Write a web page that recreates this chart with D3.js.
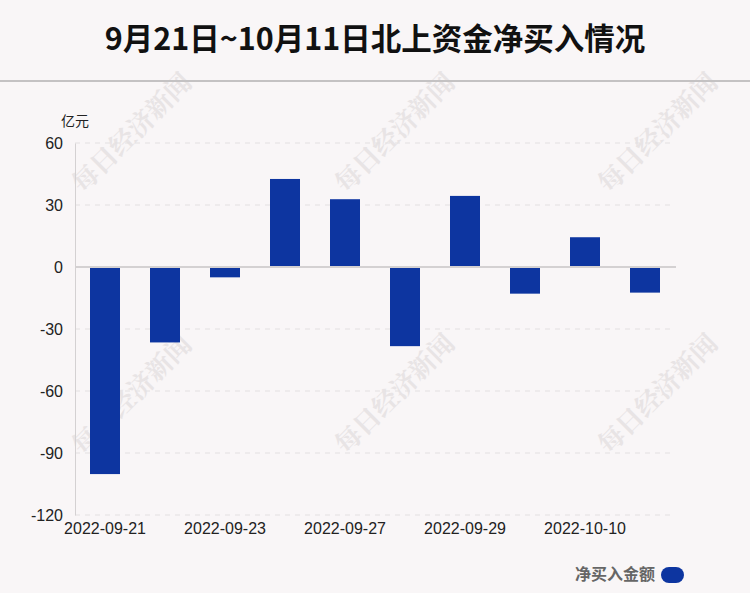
<!DOCTYPE html>
<html><head><meta charset="utf-8">
<script src="https://cdn.jsdelivr.net/npm/d3@7/dist/d3.min.js"></script>
<style>
html,body{margin:0;padding:0;background:#f9f6f7;}
svg{display:block;font-family:"Liberation Sans",Arial,"Noto Sans CJK SC",sans-serif;}
</style></head>
<body>
<script>
const categories = ["2022-09-21","2022-09-22","2022-09-23","2022-09-26","2022-09-27","2022-09-28","2022-09-29","2022-09-30","2022-10-10","2022-10-11"];
const values = [-100.2,-36.5,-5.0,42.6,32.8,-38.3,34.4,-12.9,14.4,-12.4];
const yTicks = [60,30,0,-30,-60,-90,-120];
const xTickLabels = ["2022-09-21","2022-09-23","2022-09-27","2022-09-29","2022-10-10"];
const title = "9月21日~10月11日北上资金净买入情况";
const unit = "亿元";
const legendLabel = "净买入金额";
const watermark = "每日经济新闻";

const W=750,H=593;
const svg=d3.select("body").append("svg").attr("width",W).attr("height",H);
svg.append("rect").attr("width",W).attr("height",H).attr("fill","#f9f6f7");

// watermarks
const wmPos=[[130,131],[393,131],[656,131],[130,393],[393,392],[656,392]];
svg.append("g").selectAll("text").data(wmPos).join("text")
  .attr("transform",d=>`translate(${d[0]},${d[1]}) rotate(-45)`)
  .attr("text-anchor","middle").attr("dominant-baseline","central")
  .attr("font-family","'Noto Serif CJK SC','Noto Sans CJK SC',serif").attr("font-weight","bold")
  .attr("font-size",26).attr("fill","#e8e4e5").text(watermark);

// title
svg.append("text").attr("x",375).attr("y",50).attr("text-anchor","middle")
  .attr("font-family","'Noto Sans CJK SC','Liberation Sans',sans-serif")
  .attr("font-weight","bold").attr("font-size",30.5).attr("fill","#111").text(title);
svg.append("line").attr("x1",0).attr("x2",W).attr("y1",81).attr("y2",81)
  .attr("stroke","#c4c2c3").attr("stroke-width",2);

const x=d3.scaleBand().domain(categories).range([75,675]).paddingInner(0.5).paddingOuter(0.25);
const y=d3.scaleLinear().domain([-120,60]).range([515,143]);

// grid
svg.append("g").selectAll("line").data(yTicks.filter(t=>t!==0)).join("line")
  .attr("x1",75).attr("x2",675).attr("y1",d=>y(d)).attr("y2",d=>y(d))
  .attr("stroke","#e3e0e1").attr("stroke-dasharray","5,5");

// y axis
const yAxis=d3.axisLeft(y).tickValues(yTicks).tickSize(0).tickPadding(12).tickFormat(d=>String(d));
const gy=svg.append("g").attr("transform","translate(75,0)").call(yAxis);
gy.select(".domain").attr("stroke","#d4d1d2");
gy.selectAll("text").attr("font-size",16).attr("fill","#222").attr("font-family","'Liberation Sans',Arial,sans-serif");

svg.append("text").attr("x",61).attr("y",126).attr("font-size",14).attr("fill","#222")
  .attr("font-family","'Noto Sans CJK SC',sans-serif").text(unit);

// bars
svg.append("g").selectAll("rect").data(categories).join("rect")
  .attr("x",d=>x(d)).attr("width",x.bandwidth())
  .attr("y",(d,i)=>y(Math.max(0,values[i])))
  .attr("height",(d,i)=>Math.abs(y(values[i])-y(0)))
  .attr("fill","#0d35a0");

// zero line
svg.append("line").attr("x1",75).attr("x2",676).attr("y1",y(0)).attr("y2",y(0))
  .attr("stroke","#d4d1d2").attr("stroke-width",2);

// x axis labels
const xAxis=d3.axisBottom(x).tickSize(0).tickPadding(8)
  .tickFormat(d=>xTickLabels.includes(d)?d:"");
const gx=svg.append("g").attr("transform","translate(0,515)").call(xAxis);
gx.select(".domain").remove();
gx.selectAll("text").attr("font-size",16).attr("fill","#222").attr("font-family","'Liberation Sans',Arial,sans-serif");

// legend
svg.append("text").attr("x",655).attr("y",580).attr("text-anchor","end")
  .attr("font-family","'Noto Sans CJK SC',sans-serif").attr("font-weight","bold")
  .attr("font-size",16).attr("fill","#666").text(legendLabel);
svg.append("rect").attr("x",661).attr("y",567).attr("width",23).attr("height",16)
  .attr("rx",8).attr("fill","#0d35a0");
</script>
</body></html>
